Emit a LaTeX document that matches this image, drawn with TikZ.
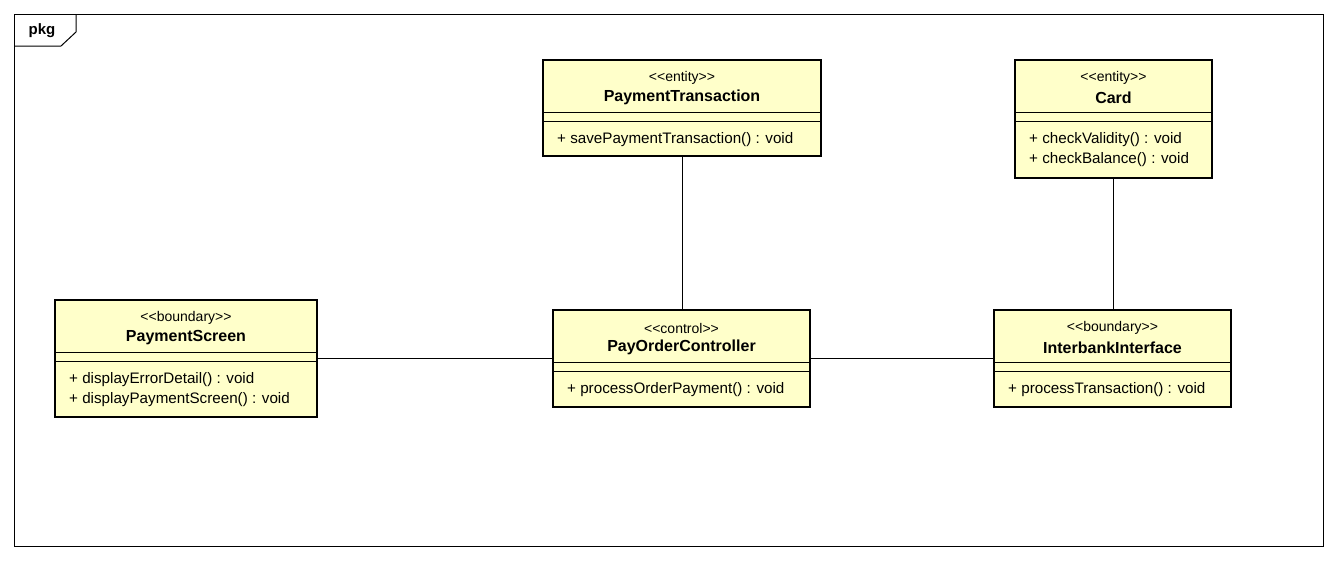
\documentclass[tikz,border=0pt]{standalone}
\usepackage{fontspec}
\setmainfont{Liberation Sans}
\definecolor{clsfill}{RGB}{255,255,202}
\newcommand{\stlt}{<\kern0pt<}
\newcommand{\stgt}{>\kern0pt>}
\tikzset{
  cls/.style={draw=black, line width=2.6pt, fill=clsfill, rectangle, inner sep=0pt},
  sep/.style={draw=black, line width=0.9pt},
  conn/.style={draw=black, line width=1pt},
  stereo/.style={inner sep=0pt, font=\fontsize{14}{16}\selectfont},
  cname/.style={inner sep=0pt, font=\fontsize{16}{18}\selectfont\bfseries},
  meth/.style={inner sep=0pt, anchor=west, font=\fontsize{15.2}{17}\selectfont},
}
\begin{document}
\begin{tikzpicture}[x=1pt,y=-1pt]
\useasboundingbox (0,0) rectangle (1336,560);
\fill[white] (0,0) rectangle (1336,560);
% frame
\draw[line width=1pt] (14,14) rectangle (1323,546);
\draw[line width=1pt] (14,46) -- (61,46) -- (76,32) -- (76,14);
\node[inner sep=0pt, font=\fontsize{15}{17}\selectfont\bfseries] (pkg) at (42,31) {pkg};

% PaymentTransaction (top 60)
\node[cls, minimum width=278pt, minimum height=96pt] (pt) at (682,108) {};
\node[stereo] (ptS) at (682,78) {\stlt entity\stgt};
\node[cname] (ptN) at (682,97.5) {PaymentTransaction};
\draw[sep] (543,112) -- (821,112);
\draw[sep] (543,121.5) -- (821,121.5);
\node[meth] (ptM1) at (557,139.5) {+ savePaymentTransaction() : void};

% Card (top 60)
\node[cls, minimum width=197pt, minimum height=118pt] (card) at (1113.5,119) {};
\node[stereo] (cardS) at (1113.5,78) {\stlt entity\stgt};
\node[cname] (cardN) at (1113.5,97.5) {Card};
\draw[sep] (1015,112) -- (1212,112);
\draw[sep] (1015,121.5) -- (1212,121.5);
\node[meth] (cardM1) at (1029,139.5) {+ checkValidity() : void};
\node[meth] (cardM2) at (1029,160) {+ checkBalance() : void};

% PaymentScreen (top 300)
\node[cls, minimum width=262pt, minimum height=117pt] (ps) at (186,358.5) {};
\node[stereo] (psS) at (186,318) {\stlt boundary\stgt};
\node[cname] (psN) at (186,337.5) {PaymentScreen};
\draw[sep] (55,352) -- (317,352);
\draw[sep] (55,361.5) -- (317,361.5);
\node[meth] (psM1) at (69,379.5) {+ displayErrorDetail() : void};
\node[meth] (psM2) at (69,400) {+ displayPaymentScreen() : void};

% PayOrderController (top 310)
\node[cls, minimum width=257pt, minimum height=97pt] (poc) at (681.5,358.5) {};
\node[stereo] (pocS) at (681.5,328) {\stlt control\stgt};
\node[cname] (pocN) at (681.5,347.5) {PayOrderController};
\draw[sep] (553,362) -- (810,362);
\draw[sep] (553,371.5) -- (810,371.5);
\node[meth] (pocM1) at (567,389.5) {+ processOrderPayment() : void};

% InterbankInterface (top 310)
\node[cls, minimum width=237pt, minimum height=97pt] (ii) at (1112.5,358.5) {};
\node[stereo] (iiS) at (1112.5,328) {\stlt boundary\stgt};
\node[cname] (iiN) at (1112.5,347.5) {InterbankInterface};
\draw[sep] (994,362) -- (1231,362);
\draw[sep] (994,371.5) -- (1231,371.5);
\node[meth] (iiM1) at (1008,389.5) {+ processTransaction() : void};

% connectors
\draw[conn] (ps.east) -- (poc.west);
\draw[conn] (poc.east) -- (ii.west);
\draw[conn] (pt.south) -- (poc.north -| pt.south);
\draw[conn] (card.south) -- (ii.north -| card.south);
\end{tikzpicture}
\end{document}
